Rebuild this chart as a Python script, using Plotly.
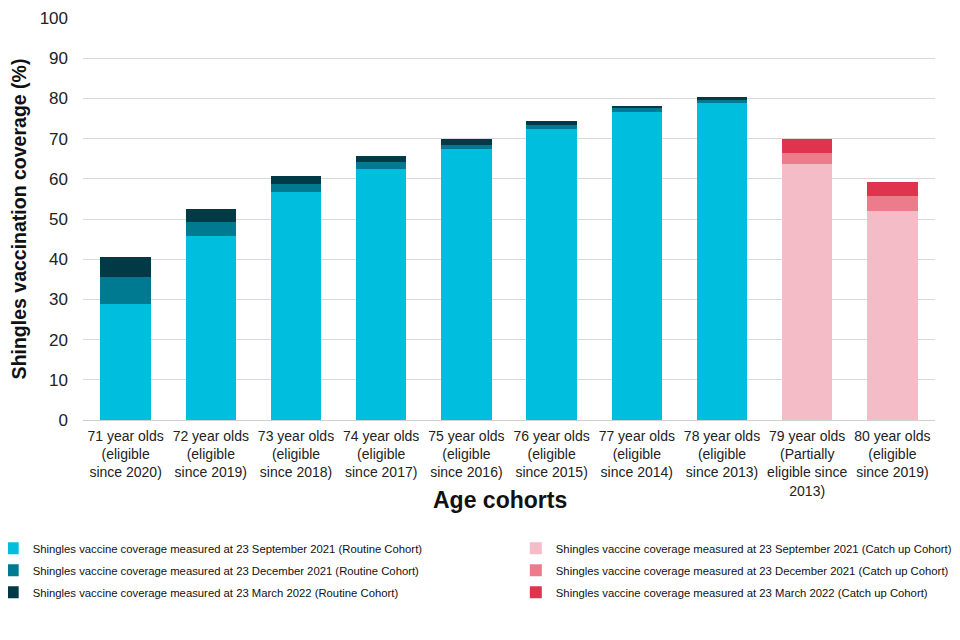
import plotly.graph_objects as go

categories = ["71 year olds<br>(eligible<br>since 2020)", "72 year olds<br>(eligible<br>since 2019)",
              "73 year olds<br>(eligible<br>since 2018)", "74 year olds<br>(eligible<br>since 2017)",
              "75 year olds<br>(eligible<br>since 2016)", "76 year olds<br>(eligible<br>since 2015)",
              "77 year olds<br>(eligible<br>since 2014)", "78 year olds<br>(eligible<br>since 2013)",
              "79 year olds<br>(Partially<br>eligible since<br>2013)", "80 year olds<br>(eligible<br>since 2019)"]

# cumulative coverage values (None = not in that cohort type)
routine_sep = [28.8, 45.8, 56.7, 62.4, 67.3, 72.5, 76.7, 78.8, None, None]
routine_dec = [35.5, 49.3, 58.7, 64.1, 68.4, 73.4, 77.5, 79.7, None, None]
routine_mar = [40.5, 52.4, 60.7, 65.7, 69.9, 74.3, 78.0, 80.3, None, None]
catch_sep = [None] * 8 + [63.8, 51.9]
catch_dec = [None] * 8 + [66.4, 55.7]
catch_mar = [None] * 8 + [69.9, 59.1]

x_title = "Age cohorts"
y_title = "Shingles vaccination coverage (%)"

def diff(a, b):
    return [None if (x is None or y is None) else round(x - y, 2) for x, y in zip(a, b)]

series = [
    ("Shingles vaccine coverage measured at 23 September 2021 (Routine Cohort)", routine_sep, "#00BFDE", "legend"),
    ("Shingles vaccine coverage measured at 23 December 2021 (Routine Cohort)", diff(routine_dec, routine_sep), "#007A90", "legend"),
    ("Shingles vaccine coverage measured at 23 March 2022 (Routine Cohort)", diff(routine_mar, routine_dec), "#003A47", "legend"),
    ("Shingles vaccine coverage measured at 23 September 2021 (Catch up Cohort)", catch_sep, "#F4BCC6", "legend2"),
    ("Shingles vaccine coverage measured at 23 December 2021 (Catch up Cohort)", diff(catch_dec, catch_sep), "#EC7C8C", "legend2"),
    ("Shingles vaccine coverage measured at 23 March 2022 (Catch up Cohort)", diff(catch_mar, catch_dec), "#E0334E", "legend2"),
]

fig = go.Figure()
for i, (name, vals, color, leg) in enumerate(series):
    fig.add_trace(go.Bar(x=categories, y=vals, name=name, legendgroup=f"g{i}",
                         marker=dict(color=color, line=dict(width=0.8, color="rgba(0,0,0,0)")),
                         legend=leg))

legend_common = dict(xanchor="left", yanchor="top", orientation="v",
                     font=dict(size=11.3, color="#111111"), traceorder="grouped", bgcolor="rgba(0,0,0,0)",
                     itemwidth=30, tracegroupgap=3)

fig.update_layout(
    width=952, height=632,
    barmode="stack", bargap=0.41,
    plot_bgcolor="white", paper_bgcolor="white",
    margin=dict(l=75, r=25, t=10, b=220, autoexpand=False),
    font=dict(family="Liberation Sans, Arial, sans-serif", color="#222222"),
    xaxis=dict(tickfont=dict(size=14, color="#222222"), showline=False, ticks="", automargin=False,
               ticklabelstandoff=6),
    yaxis=dict(title=dict(text=f"<b>{y_title}</b>", font=dict(size=19.5, color="#111111"), standoff=14),
               range=[0, 100], dtick=10, tickfont=dict(size=17, color="#222222"), automargin=False,
               ticklabelstandoff=14,
               gridcolor="#D9D9D9", zeroline=True, zerolinecolor="#D0D0D0", zerolinewidth=1),
    legend=dict(x=-0.106, y=-0.283, **legend_common),
    legend2=dict(x=0.508, y=-0.283, **legend_common),
    annotations=[dict(text=f"<b>{x_title}</b>", xref="paper", yref="paper", x=0.489, y=-0.2,
                      xanchor="center", yanchor="middle", showarrow=False,
                      font=dict(size=23, color="#111111"))],
)

fig.write_html("out.html")
